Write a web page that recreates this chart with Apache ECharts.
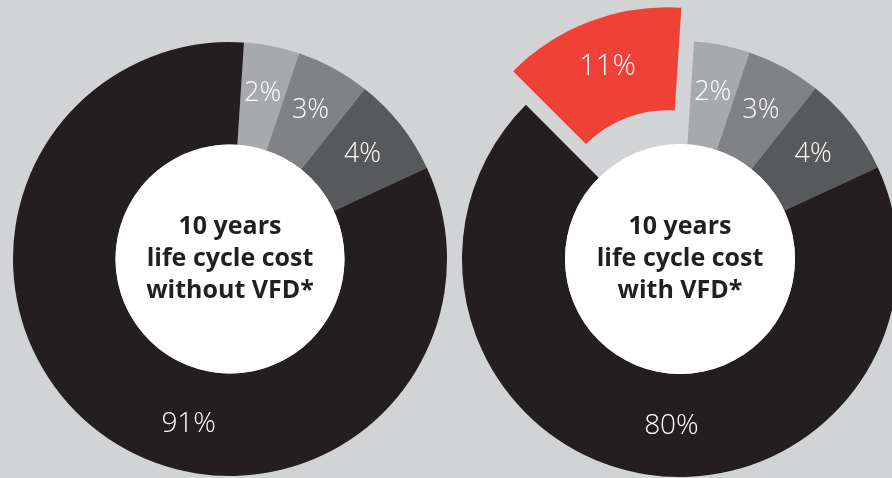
<!DOCTYPE html>
<html>
<head>
<meta charset="utf-8">
<script src="https://cdn.jsdelivr.net/npm/echarts@6/dist/echarts.min.js"></script>
<style>
  html, body { margin: 0; padding: 0; background: #d1d3d4; }
  #chart { width: 892px; height: 478px; }
</style>
</head>
<body>
<div id="chart"></div>
<script>
// ---- data ----
// printed percentages
const leftPercents  = [2, 3, 4, 91];
const rightPercents = [2, 3, 4, 80, 11];
// drawn sector sweep (degrees) (the artwork is not to scale)
const leftSweep  = [14.9, 19.8, 26.7, 298.6];
const rightSweep = [14.9, 19.8, 26.7, 249.9, 48.7];
const sliceColorsLeft  = ['#a7a9ac', '#808285', '#58595b', '#231f20'];
const sliceColorsRight = ['#a7a9ac', '#808285', '#58595b', '#231f20', '#ef4136'];
const centerTitles = ['10 years\nlife cycle cost\nwithout VFD*', '10 years\nlife cycle cost\nwith VFD*'];

const chart = echarts.init(document.getElementById('chart'), null, { renderer: 'canvas' });

function donutData(sweeps, pcts, colors, explodeIndex) {
  return sweeps.map((v, i) => ({
    value: v,
    name: pcts[i] + '%',
    selected: i === explodeIndex,
    itemStyle: { color: colors[i] },
    select: { itemStyle: { color: colors[i], borderWidth: 0 } },
    label: { fontSize: i === explodeIndex ? 29 : (pcts[i] > 50 ? 28 : 27) }
  }));
}

const labelBase = {
  show: true,
  position: 'inside',
  formatter: '{b}',
  color: '#ffffff',
  fontFamily: 'Open Sans',
  fontWeight: 300,
  fontSize: 27
};

const centerLabel = (txt) => ({
  show: true,
  position: 'center',
  formatter: txt,
  color: '#231f20',
  fontFamily: 'Open Sans',
  fontWeight: 'bold',
  fontSize: 25,
  lineHeight: 32,
  align: 'center'
});

// nudges for the big slices' labels (the artwork does not place them at mid-angle)
function bigLabelNudge(shift) {
  return function (params) {
    if (params.dataIndex === 3) return { dx: shift[0], dy: shift[1] };
    return {};
  };
}

const common = {
  type: 'pie',
  clockwise: true,
  startAngle: 86.3,
  avoidLabelOverlap: false,
  labelLine: { show: false },
  emphasis: { disabled: true },
  animation: false,
  silent: true
};

chart.setOption({
  backgroundColor: '#d1d3d4',
  series: [
    Object.assign({}, common, {
      name: 'without VFD',
      center: [230, 259],
      radius: [114.5, 217],
      label: labelBase,
      labelLayout: bigLabelNudge([54, 26]),
      data: donutData(leftSweep, leftPercents, sliceColorsLeft, -1)
    }),
    {
      type: 'pie', silent: true, animation: false,
      center: [230, 259], radius: [0, 114.5],
      emphasis: { disabled: true },
      label: centerLabel(centerTitles[0]),
      labelLine: { show: false },
      data: [{ value: 1, itemStyle: { color: '#ffffff' } }]
    },
    Object.assign({}, common, {
      name: 'with VFD',
      center: [680, 259],
      radius: [115, 218],
      selectedMode: 'single',
      selectedOffset: 36,
      label: labelBase,
      labelLayout: bigLabelNudge([21, 0]),
      data: donutData(rightSweep, rightPercents, sliceColorsRight, 4)
    }),
    {
      type: 'pie', silent: true, animation: false,
      center: [680, 259], radius: [0, 115],
      emphasis: { disabled: true },
      label: centerLabel(centerTitles[1]),
      labelLine: { show: false },
      data: [{ value: 1, itemStyle: { color: '#ffffff' } }]
    }
  ]
});
</script>
</body>
</html>
